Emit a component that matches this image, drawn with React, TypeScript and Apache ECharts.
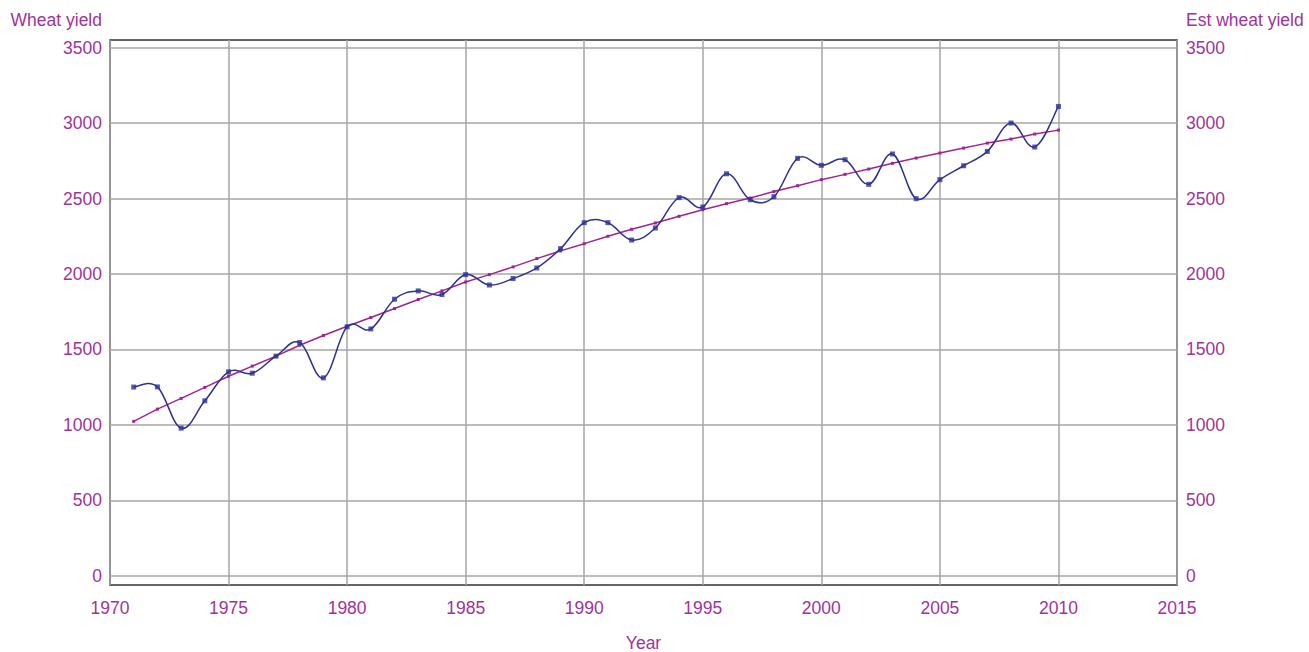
import React, { useEffect, useRef } from "react";
import * as echarts from "echarts";

const years = [
  1971, 1972, 1973, 1974, 1975, 1976, 1977, 1978, 1979, 1980,
  1981, 1982, 1983, 1984, 1985, 1986, 1987, 1988, 1989, 1990,
  1991, 1992, 1993, 1994, 1995, 1996, 1997, 1998, 1999, 2000,
  2001, 2002, 2003, 2004, 2005, 2006, 2007, 2008, 2009, 2010,
];
const wheatYield = [
  1251, 1252, 979, 1160, 1352, 1343, 1456, 1546, 1312, 1650,
  1636, 1833, 1888, 1864, 1996, 1927, 1970, 2040, 2168, 2340,
  2340, 2225, 2305, 2506, 2444, 2664, 2492, 2512, 2766, 2720,
  2757, 2594, 2795, 2499, 2625, 2717, 2812, 3000, 2841, 3110,
];
const estWheatYield = [
  1024, 1105, 1176, 1249, 1323, 1390, 1456, 1528, 1593, 1654,
  1712, 1771, 1831, 1888, 1947, 1996, 2047, 2102, 2153, 2201,
  2250, 2296, 2338, 2382, 2426, 2466, 2503, 2546, 2585, 2625,
  2660, 2695, 2733, 2768, 2801, 2834, 2867, 2894, 2927, 2953,
];
const yTicks = [0, 500, 1000, 1500, 2000, 2500, 3000, 3500];

const TEXT = "#a0339b";
const BLUE = "#2e3192";
const PURPLE = "#a3238e";
const GRID = "#a6a6a6";
const FONT = "Liberation Sans, Arial, sans-serif";
const FS = 17.5;

export default function App() {
  const ref = useRef<HTMLDivElement>(null);
  useEffect(() => {
    if (!ref.current) return;
    const chart = echarts.init(ref.current, null, { renderer: "svg" });
    const yAxisBase = (pos: "left" | "right", name: string) => ({
      type: "value" as const,
      position: pos,
      min: -60,
      max: 3550,
      name,
      nameLocation: "end" as const,
      nameGap: 11,
      nameTextStyle: {
        color: TEXT,
        fontSize: FS,
        fontFamily: FONT,
        align: pos === "left" ? ("right" as const) : ("left" as const),
        padding: pos === "left" ? [0, 8, 0, 0] : [0, 0, 0, 9],
      },
      axisLine: { show: false },
      axisTick: { show: false, customValues: yTicks },
      axisLabel: {
        customValues: yTicks,
        color: TEXT,
        fontSize: FS,
        fontFamily: FONT,
        margin: pos === "left" ? 8 : 9,
        formatter: (v: number) => String(v),
      },
      splitLine: {
        show: pos === "left",
        lineStyle: { color: GRID, width: 1.5 },
      },
    });
    const clampIdx = (j: number) => Math.max(0, Math.min(years.length - 1, j));
    chart.setOption({
      animation: false,
      grid: {
        left: 110,
        top: 40,
        width: 1067,
        height: 545,
        show: true,
        borderColor: "#333",
        borderWidth: 1.5,
        backgroundColor: "transparent",
        containLabel: false,
        outerBoundsMode: "none",
      },
      xAxis: {
        type: "value",
        min: 1970,
        max: 2015,
        interval: 5,
        name: "Year",
        nameLocation: "middle",
        nameGap: 49,
        nameTextStyle: { color: TEXT, fontSize: FS, fontFamily: FONT },
        axisLine: { show: false },
        axisTick: { show: false },
        axisLabel: {
          color: TEXT,
          fontSize: FS,
          margin: 14,
          fontFamily: FONT,
          showMinLabel: true,
          showMaxLabel: true,
          formatter: (v: number) => String(v),
        },
        splitLine: { show: true, lineStyle: { color: GRID, width: 1.5 } },
      },
      yAxis: [yAxisBase("left", "Wheat yield"), yAxisBase("right", "Est wheat yield")],
      series: [
        {
          name: "Est wheat yield",
          type: "line",
          yAxisIndex: 1,
          data: years.map((y, i) => [y, estWheatYield[i]]),
          symbol: "rect",
          symbolSize: 3,
          lineStyle: { color: PURPLE, width: 1.5 },
          itemStyle: { color: PURPLE },
          z: 2,
        },
        {
          name: "Wheat yield curve",
          type: "custom",
          yAxisIndex: 0,
          data: years.map((y, i) => [y, wheatYield[i]]),
          encode: { x: 0, y: 1 },
          z: 3,
          renderItem: (params: any, api: any) => {
            const i = params.dataIndex;
            if (i >= years.length - 1) return null;
            const p = (j: number) => {
              const k = clampIdx(j);
              return api.coord([years[k], wheatYield[k]]);
            };
            const p0 = p(i - 1), p1 = p(i), p2 = p(i + 1), p3 = p(i + 2);
            const t = 0.19;
            return {
              type: "bezierCurve",
              shape: {
                x1: p1[0], y1: p1[1],
                x2: p2[0], y2: p2[1],
                cpx1: p1[0] + (p2[0] - p0[0]) * t,
                cpy1: p1[1] + (p2[1] - p0[1]) * t,
                cpx2: p2[0] - (p3[0] - p1[0]) * t,
                cpy2: p2[1] - (p3[1] - p1[1]) * t,
              },
              style: { stroke: BLUE, lineWidth: 1.5, fill: "none" },
            };
          },
        },
        {
          name: "Wheat yield",
          type: "scatter",
          yAxisIndex: 0,
          data: years.map((y, i) => [y, wheatYield[i]]),
          symbol: "rect",
          symbolSize: 5,
          itemStyle: { color: BLUE },
          z: 4,
        },
      ],
    });
    return () => chart.dispose();
  }, []);
  return (
    <div
      ref={ref}
      style={{ position: "absolute", left: 0, top: 0, width: 1309, height: 652, background: "#fff" }}
    />
  );
}
